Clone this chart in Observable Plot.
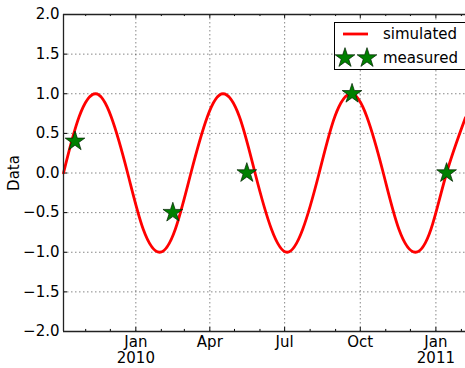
<!DOCTYPE html>
<html><head><meta charset="utf-8">
<script src="https://cdn.jsdelivr.net/npm/d3@7"></script>
<script src="https://cdn.jsdelivr.net/npm/@observablehq/plot@0.6"></script>
<style>
body{margin:0;background:#fff;}
#wrap{position:relative;width:465px;height:368px;overflow:hidden;font-family:"DejaVu Sans",sans-serif;}
#wrap svg{display:block;}
#legend{position:absolute;left:334px;top:22px;}
</style></head><body><div id="wrap"></div>
<script>
// simulated series
const simDates = ["2009-10-05","2009-10-24","2009-11-13","2009-12-02","2009-12-22","2010-01-10","2010-01-30","2010-02-18","2010-03-09","2010-03-29","2010-04-17","2010-05-07","2010-05-26","2010-06-15","2010-07-04","2010-07-23","2010-08-12","2010-08-31","2010-09-20","2010-10-09","2010-10-29","2010-11-17","2010-12-07","2010-12-26","2011-01-14","2011-02-06"];
const simValues = [0,0.71,1,0.71,0,-0.71,-1,-0.71,0,0.71,1,0.71,0,-0.71,-1,-0.71,0,0.71,1,0.71,0,-0.71,-1,-0.71,0,0.7];
// measured series
const measDates = ["2009-10-19","2010-02-15","2010-05-16","2010-09-21","2011-01-14"];
const measValues = [0.4,-0.5,0.0,1.0,0.0];
const seriesNames = ["simulated","measured"];
// axes
const yTicks = [-2,-1.5,-1,-0.5,0,0.5,1,1.5,2];
const xDomain = ["2009-10-05","2011-02-06"];
const majorTickDates = ["2010-01-01","2010-04-01","2010-07-01","2010-10-01","2011-01-01"];
const majorTickLabels = ["Jan\n2010","Apr","Jul","Oct","Jan\n2011"];
const minorTickDates = ["2009-11-01","2009-12-01","2010-02-01","2010-03-01","2010-05-01","2010-06-01","2010-08-01","2010-09-01","2010-11-01","2010-12-01","2011-02-01"];

const parse = d3.utcParse("%Y-%m-%d");
const sim = simDates.map((d,i)=>({date:parse(d), value:simValues[i]}));
const meas = measDates.map((d,i)=>({date:parse(d), value:measValues[i]}));
const majors = majorTickDates.map(parse);
const minors = minorTickDates.map(parse);
const x0 = parse(xDomain[0]), x1 = parse(xDomain[1]);
const DAY = 86400000;
const FS = 15;
const grid = {stroke:"#000", strokeOpacity:0.6, strokeWidth:0.8, strokeDasharray:"1.5,2.5"};
const frame = {stroke:"#222", strokeWidth:1.3};
const yMaj = 0.05, yMin = 0.026, xMaj = 4.9*DAY;

const chart = Plot.plot({
  width:465, height:368,
  marginLeft:63, marginRight:0, marginTop:14, marginBottom:37,
  style:{fontFamily:"'DejaVu Sans', sans-serif", fontSize:FS+"px", color:"#000", background:"#fff"},
  x:{type:"utc", domain:[x0,x1]},
  y:{domain:[-2,2]},
  marks:[
    Plot.ruleY(yTicks.slice(1,-1), grid),
    Plot.ruleX(majors, grid),
    Plot.ruleX(majors, {y1:-2, y2:-2+yMaj, stroke:"#000"}),
    Plot.ruleX(majors, {y1:2, y2:2-yMaj, stroke:"#000"}),
    Plot.ruleX(minors, {y1:-2, y2:-2+yMin, stroke:"#000"}),
    Plot.ruleX(minors, {y1:2, y2:2-yMin, stroke:"#000"}),
    Plot.ruleY(yTicks, {x1:x0, x2:new Date(+x0+xMaj), stroke:"#000"}),
    Plot.line(sim, {x:"date", y:"value", stroke:"red", strokeWidth:2.8, curve:"natural"}),
    Plot.dot(meas, {x:"date", y:"value", symbol:"star", r:6.2, fill:"#008000", stroke:"#002000", strokeWidth:0.7}),
    Plot.ruleY([-2,2], frame),
    Plot.ruleX([x0], frame),
    Plot.axisX(majors, {tickSize:0, tickPadding:3, label:null, fontSize:FS, lineHeight:1.13,
      tickFormat:d=>majorTickLabels[majors.findIndex(t=>+t===+d)]}),
    Plot.axisY(yTicks, {tickSize:0, tickPadding:4, fontSize:FS, tickFormat:d3.format(".1f"),
      label:"Data", labelAnchor:"center", labelOffset:55, labelArrow:"none"})
  ]
});
const wrap = document.getElementById("wrap");
wrap.appendChild(chart);

// legend
const lg = d3.create("svg").attr("id","legend").attr("width",140).attr("height",48)
  .style("font-family","'DejaVu Sans', sans-serif").style("font-size",FS+"px");
lg.append("rect").attr("x",0.5).attr("y",0.5).attr("width",150).attr("height",47)
  .attr("fill","#fff").attr("stroke","#000").attr("stroke-width",1);
lg.append("line").attr("x1",9).attr("x2",34).attr("y1",12).attr("y2",12)
  .attr("stroke","red").attr("stroke-width",2.8);
const star = d3.symbol(d3.symbolStar, Math.PI*6.2*6.2)();
[11,33].forEach(cx=>lg.append("path").attr("d",star).attr("transform",`translate(${cx},36)`)
  .attr("fill","#008000").attr("stroke","#002000").attr("stroke-width",0.7));
seriesNames.forEach((s,i)=>lg.append("text").attr("x",49).attr("y",12+24*i)
  .attr("dy","0.35em").attr("fill","#000").text(s));
wrap.appendChild(lg.node());
</script></body></html>
